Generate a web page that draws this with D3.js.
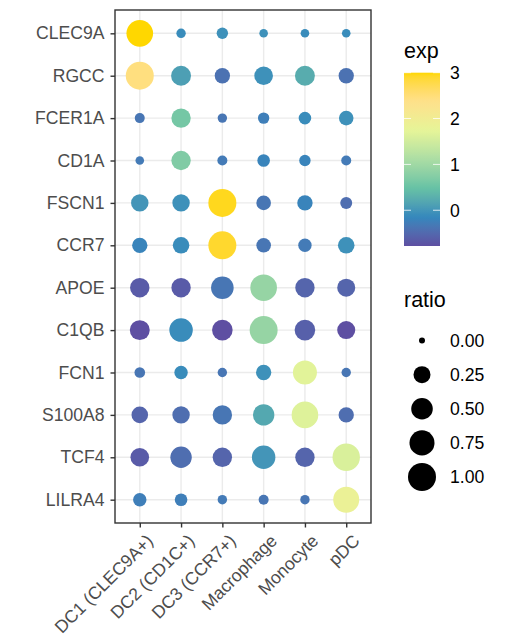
<!DOCTYPE html>
<html>
<head>
<meta charset="utf-8">
<script src="https://cdn.jsdelivr.net/npm/d3@7"></script>
<style>
  html, body { margin: 0; padding: 0; background: #fff; }
  svg { display: block; font-family: "Liberation Sans", Arial, Helvetica, sans-serif; }
</style>
</head>
<body>
<svg id="chart" width="505" height="635"></svg>
<script>
// ---- data ----
const genes = ["CLEC9A","RGCC","FCER1A","CD1A","FSCN1","CCR7","APOE","C1QB","FCN1","S100A8","TCF4","LILRA4"];
const cellTypes = ["DC1 (CLEC9A+)","DC2 (CD1C+)","DC3 (CCR7+)","Macrophage","Monocyte","pDC"];
// ratio per gene, in cellTypes order
const ratioValues = [
  [0.88, 0.024, 0.06, 0.014, 0.014, 0.014],
  [1.00, 0.40, 0.18, 0.33, 0.40, 0.18],
  [0.033, 0.37, 0.024, 0.06, 0.09, 0.153],
  [0.014, 0.37, 0.033, 0.09, 0.06, 0.033],
  [0.27, 0.27, 1.00, 0.153, 0.18, 0.074],
  [0.18, 0.23, 1.00, 0.153, 0.113, 0.23],
  [0.37, 0.37, 0.57, 0.88, 0.37, 0.30],
  [0.40, 0.63, 0.44, 1.00, 0.44, 0.30],
  [0.044, 0.113, 0.024, 0.18, 0.67, 0.024],
  [0.23, 0.27, 0.37, 0.49, 0.88, 0.18],
  [0.33, 0.49, 0.37, 0.63, 0.37, 0.95],
  [0.113, 0.09, 0.024, 0.033, 0.024, 0.83]
];
// scaled expression per gene, in cellTypes order
const expValues = [
  [3.00, -0.10, -0.05, -0.05, -0.10, -0.10],
  [2.45, 0.10, -0.40, -0.05, 0.25, -0.40],
  [-0.35, 0.60, -0.35, -0.25, -0.10, -0.05],
  [-0.30, 0.70, -0.30, -0.20, -0.20, -0.30],
  [0.00, -0.05, 2.95, -0.35, -0.20, -0.45],
  [-0.20, -0.10, 2.90, -0.35, -0.30, -0.05],
  [-0.65, -0.65, -0.35, 0.90, -0.55, -0.55],
  [-0.78, -0.10, -0.78, 0.90, -0.60, -0.78],
  [-0.35, -0.10, -0.35, -0.05, 1.70, -0.35],
  [-0.55, -0.45, -0.35, 0.20, 1.65, -0.45],
  [-0.65, -0.45, -0.55, 0.00, -0.55, 1.60],
  [-0.25, -0.25, -0.30, -0.35, -0.35, 1.85]
];
const expRange = [-0.78, 3.0];
const paletteColors = ["#5E4FA2","#3288BD","#66C2A5","#ABDDA4","#E6F598","#FEE08B","#FFD700"];
const colorBreaks = [0, 1, 2, 3];
const sizeBreaks = [0, 0.25, 0.5, 0.75, 1.0];
const sizeBreakLabels = ["0.00","0.25","0.50","0.75","1.00"];

// ---- layout ----
const svg = d3.select("#chart");
const panel = { left: 115, right: 371, top: 10, bottom: 523 };
const tickFont = "17.6px";
const titleFont = "21.5px";

const x = d3.scalePoint().domain(cellTypes).range([panel.left, panel.right]).padding(0.6);
const y = d3.scalePoint().domain(genes).range([panel.top, panel.bottom]).padding(0.55);
const r = d3.scaleSqrt().domain([0, 1]).range([3, 14]);
const colStops = paletteColors.map((c, i) => expRange[0] + i * (expRange[1] - expRange[0]) / (paletteColors.length - 1));
const color = d3.scaleLinear().domain(colStops).range(paletteColors).interpolate(d3.interpolateLab).clamp(true);

const cells = [];
genes.forEach((g, gi) => cellTypes.forEach((c, ci) => {
  cells.push({ gene: g, cell: c, ratio: ratioValues[gi][ci], exp: expValues[gi][ci] });
}));

// grid
const grid = svg.append("g");
grid.selectAll("line.vx").data(cellTypes).join("line")
  .attr("x1", d => x(d)).attr("x2", d => x(d))
  .attr("y1", panel.top).attr("y2", panel.bottom)
  .attr("stroke", "#EBEBEB").attr("stroke-width", 1.4);
grid.selectAll("line.hy").data(genes).join("line")
  .attr("y1", d => y(d)).attr("y2", d => y(d))
  .attr("x1", panel.left).attr("x2", panel.right)
  .attr("stroke", "#EBEBEB").attr("stroke-width", 1.4);

// points
svg.append("g").selectAll("circle").data(cells).join("circle")
  .attr("cx", d => x(d.cell)).attr("cy", d => y(d.gene))
  .attr("r", d => r(d.ratio))
  .attr("fill", d => color(d.exp));

// border
svg.append("rect")
  .attr("x", panel.left).attr("y", panel.top)
  .attr("width", panel.right - panel.left).attr("height", panel.bottom - panel.top)
  .attr("fill", "none").attr("stroke", "#333333").attr("stroke-width", 1.4);

// y axis
const yAxis = svg.append("g").attr("transform", `translate(${panel.left},0)`)
  .call(d3.axisLeft(y).tickSize(4.5).tickPadding(6));
yAxis.select(".domain").remove();
yAxis.selectAll(".tick line").attr("stroke", "#333333").attr("stroke-width", 1.4);
yAxis.selectAll(".tick text").attr("fill", "#4D4D4D").style("font-size", tickFont)
  .style("font-family", "Liberation Sans, Arial, sans-serif");

// x axis
const xAxis = svg.append("g").attr("transform", `translate(0,${panel.bottom})`)
  .call(d3.axisBottom(x).tickSize(4.5).tickPadding(4));
xAxis.select(".domain").remove();
xAxis.selectAll(".tick line").attr("stroke", "#333333").attr("stroke-width", 1.4);
xAxis.selectAll(".tick text")
  .attr("fill", "#4D4D4D").style("font-size", tickFont)
  .style("font-family", "Liberation Sans, Arial, sans-serif")
  .attr("text-anchor", "end")
  .attr("x", 0).attr("y", 0).attr("dy", "0.72em")
  .attr("transform", "translate(5,10) rotate(-45)");

// ---- colour legend ----
const cb = { x: 404, w: 36, top: 72.7, bottom: 246 };
const cy = d3.scaleLinear().domain(expRange).range([cb.bottom, cb.top]);
svg.append("text").attr("x", 404).attr("y", 58).text("exp")
  .style("font-size", titleFont).attr("fill", "#000");
const defs = svg.append("defs");
const grad = defs.append("linearGradient").attr("id", "expgrad")
  .attr("x1", 0).attr("x2", 0).attr("y1", 1).attr("y2", 0);
d3.range(0, 1.0001, 0.02).forEach(t => {
  grad.append("stop").attr("offset", t)
    .attr("stop-color", color(expRange[0] + t * (expRange[1] - expRange[0])));
});
svg.append("rect").attr("x", cb.x).attr("y", cb.top).attr("width", cb.w)
  .attr("height", cb.bottom - cb.top).attr("fill", "url(#expgrad)");
const cbTicks = svg.append("g");
colorBreaks.forEach(b => {
  const yy = cy(b);
  cbTicks.append("line").attr("x1", cb.x).attr("x2", cb.x + 7).attr("y1", yy).attr("y2", yy)
    .attr("stroke", "#fff").attr("stroke-width", 1).attr("opacity", 0.8);
  cbTicks.append("line").attr("x1", cb.x + cb.w - 7).attr("x2", cb.x + cb.w).attr("y1", yy).attr("y2", yy)
    .attr("stroke", "#fff").attr("stroke-width", 1).attr("opacity", 0.8);
  cbTicks.append("text").attr("x", 450).attr("y", yy).attr("dy", "0.36em")
    .text(b).style("font-size", tickFont).attr("fill", "#000");
});

// ---- size legend ----
svg.append("text").attr("x", 404).attr("y", 307).text("ratio")
  .style("font-size", titleFont).attr("fill", "#000");
const sizeKeyY = d3.scaleLinear().domain([0, sizeBreaks.length - 1]).range([340.5, 477]);
const sl = svg.append("g");
sizeBreaks.forEach((b, i) => {
  const yy = sizeKeyY(i);
  sl.append("circle").attr("cx", 422).attr("cy", yy).attr("r", r(b)).attr("fill", "#000");
  sl.append("text").attr("x", 450).attr("y", yy).attr("dy", "0.36em")
    .text(sizeBreakLabels[i]).style("font-size", tickFont).attr("fill", "#000");
});
</script>
</body>
</html>
